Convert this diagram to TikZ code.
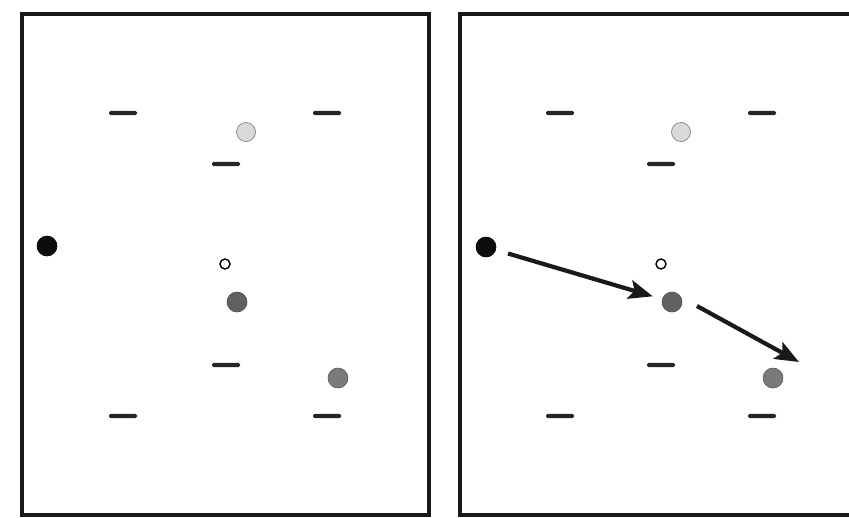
\documentclass[tikz,border=0pt]{standalone}
\usetikzlibrary{arrows.meta}
\begin{document}
\begin{tikzpicture}[x=1pt,y=-1pt,
  panel/.style={line width=3.3pt,draw=black!90},
  bar/.style={fill=black!85,rounded corners=1.5pt,minimum width=28pt,minimum height=4.2pt,inner sep=0pt,draw=none},
  dot/.style={circle,inner sep=0pt,minimum size=20pt,draw=black!70,line width=0.6pt},
  blackdot/.style={dot,fill=black!95,draw=black},
  lightdot/.style={dot,fill=black!15,draw=black!55,minimum size=19pt},
  darkdot/.style={dot,fill=black!62,draw=black!70},
  greydot/.style={dot,fill=black!52,draw=black!65},
  smalldot/.style={circle,inner sep=0pt,minimum size=10pt,draw=black,line width=1.4pt,fill=white},
  move/.style={line width=4.2pt,draw=black!90,-{Stealth[length=24pt,width=19pt,inset=5pt]}}
]
\useasboundingbox (0,0) rectangle (849,517);
\fill[white] (0,0) rectangle (849,517);
% left panel
\draw[panel] (22,14) rectangle (429,515);
% right panel (cut off at right)
\begin{scope}
\clip (0,0) rectangle (849,517);
\draw[panel] (460,14) rectangle (870,515);
\end{scope}

% left panel contents
\node[bar] (l1) at (123,113) {};
\node[bar] (l2) at (327,113) {};
\node[lightdot] (lc1) at (246,132) {};
\node[bar] (l3) at (226,164) {};
\node[blackdot] (lb) at (47,246) {};
\node[smalldot] (ls) at (225,264) {};
\node[darkdot] (ld) at (237,302) {};
\node[bar] (l4) at (226,365) {};
\node[greydot] (lg) at (338,378) {};
\node[bar] (l5) at (123,416) {};
\node[bar] (l6) at (327,416) {};

% right panel contents
\node[bar] (r1) at (560,113) {};
\node[bar] (r2) at (762,113) {};
\node[lightdot] (rc1) at (681,132) {};
\node[bar] (r3) at (661,164) {};
\node[blackdot] (rb) at (486,247) {};
\node[smalldot] (rs) at (661,264) {};
\node[darkdot] (rd) at (672,302) {};
\node[bar] (r4) at (661,365) {};
\node[greydot] (rg) at (773,378) {};
\node[bar] (r5) at (560,416) {};
\node[bar] (r6) at (762,416) {};

% arrows
\draw[move,shorten <=23pt,shorten >=20pt] (rb.center) -- (rd.center);
\coordinate (s2) at (697,306);
\coordinate (e2) at (799,362);
\draw[move] (s2) -- (e2);
\end{tikzpicture}
\end{document}
